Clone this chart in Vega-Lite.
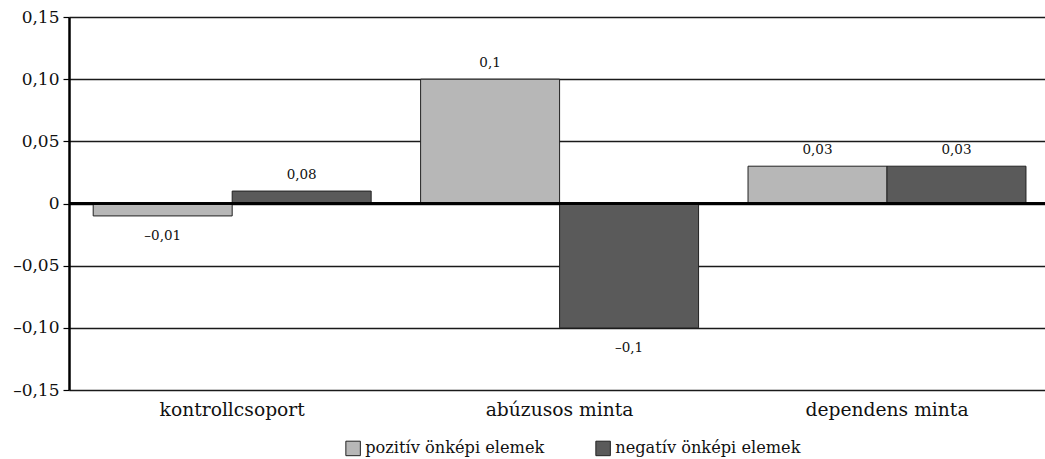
{
  "$schema": "https://vega.github.io/schema/vega-lite/v6.json",
  "width": 976,
  "height": 373,
  "autosize": {"type": "none"},
  "padding": {"left": 69, "top": 17, "right": 0, "bottom": 69},
  "background": "white",
  "config": {
    "font": "DejaVu Serif",
    "view": {"stroke": null}
  },
  "data": {
    "values": [
      {"group": "kontrollcsoport", "series": "pozitív önképi elemek", "value": -0.01, "label": "–0,01"},
      {"group": "kontrollcsoport", "series": "negatív önképi elemek", "value": 0.01, "label": "0,08"},
      {"group": "abúzusos minta", "series": "pozitív önképi elemek", "value": 0.1, "label": "0,1"},
      {"group": "abúzusos minta", "series": "negatív önképi elemek", "value": -0.1, "label": "–0,1"},
      {"group": "dependens minta", "series": "pozitív önképi elemek", "value": 0.03, "label": "0,03"},
      {"group": "dependens minta", "series": "negatív önképi elemek", "value": 0.03, "label": "0,03"}
    ]
  },
  "encoding": {
    "x": {
      "field": "group",
      "type": "nominal",
      "sort": ["kontrollcsoport", "abúzusos minta", "dependens minta"],
      "scale": {"paddingInner": 0.151, "paddingOuter": 0.066, "align": 0.56},
      "axis": {
        "title": null,
        "domain": false,
        "ticks": false,
        "labelAngle": 0,
        "labelFontSize": 18.7,
        "labelColor": "#111",
        "labelPadding": 10,
        "labelFont": "DejaVu Serif"
      }
    },
    "xOffset": {
      "field": "series",
      "type": "nominal",
      "sort": ["pozitív önképi elemek", "negatív önképi elemek"],
      "scale": {"paddingInner": 0, "paddingOuter": 0}
    }
  },
  "layer": [
    {
      "mark": {"type": "bar", "stroke": "#222", "strokeWidth": 1},
      "encoding": {
        "y": {
          "field": "value",
          "type": "quantitative",
          "scale": {"domain": [-0.15, 0.15], "nice": false, "zero": false},
          "axis": {
            "title": null,
            "values": [-0.15, -0.1, -0.05, 0, 0.05, 0.1, 0.15],
            "labelExpr": "datum.value == 0 ? '0' : (datum.value < 0 ? '–' : '') + replace(format(abs(datum.value), '.2f'), '.', ',')",
            "labelFontSize": 17,
            "labelColor": "#111",
            "labelPadding": 4,
            "grid": true,
            "gridColor": "#1a1a1a",
            "gridWidth": 1.3,
            "domainColor": "#000",
            "domainWidth": 2.5,
            "tickColor": "#000",
            "tickSize": 6,
            "tickWidth": 1.2
          }
        },
        "color": {
          "field": "series",
          "type": "nominal",
          "sort": ["pozitív önképi elemek", "negatív önképi elemek"],
          "scale": {"domain": ["pozitív önképi elemek", "negatív önképi elemek"], "range": ["#b7b7b7", "#5a5a5a"]},
          "legend": {
            "title": null,
            "orient": "none",
            "legendX": 276,
            "legendY": 423,
            "direction": "horizontal",
            "symbolType": "square",
            "symbolSize": 210,
            "symbolStrokeColor": "#222",
            "symbolStrokeWidth": 1,
            "symbolOpacity": 1,
            "labelFontSize": 16.2,
            "labelColor": "#111",
            "labelFont": "DejaVu Serif",
            "labelLimit": 0,
            "labelOffset": 4,
            "columnPadding": 48
          }
        }
      }
    },
    {
      "mark": {"type": "rule", "color": "#000", "strokeWidth": 2.2},
      "encoding": {"y": {"datum": 0, "type": "quantitative"}, "x": null, "xOffset": null}
    },
    {
      "transform": [{"filter": "datum.value >= 0"}],
      "mark": {"type": "text", "baseline": "bottom", "dy": -9, "fontSize": 13.5, "color": "#111", "font": "DejaVu Serif"},
      "encoding": {
        "y": {"field": "value", "type": "quantitative"},
        "text": {"field": "label"}
      }
    },
    {
      "transform": [{"filter": "datum.value < 0"}],
      "mark": {"type": "text", "baseline": "top", "dy": 13, "fontSize": 13.5, "color": "#111", "font": "DejaVu Serif"},
      "encoding": {
        "y": {"field": "value", "type": "quantitative"},
        "text": {"field": "label"}
      }
    }
  ]
}
